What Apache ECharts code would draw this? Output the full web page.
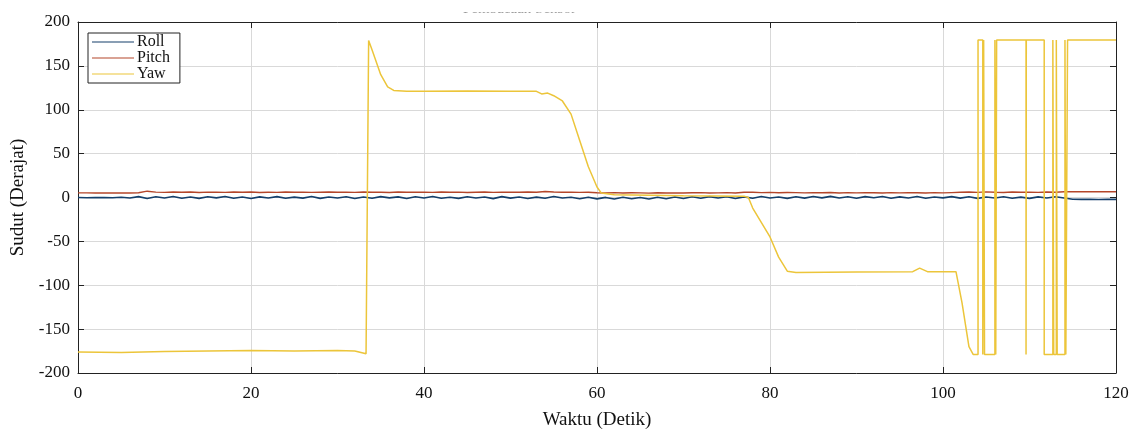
<!DOCTYPE html>
<html>
<head>
<meta charset="utf-8">
<script src="https://cdn.jsdelivr.net/npm/echarts@6/dist/echarts.min.js"></script>
<style>
  html, body { margin: 0; padding: 0; background: #fff; }
  #chart { width: 1135px; height: 435px; }
</style>
</head>
<body>
<div id="chart"></div>
<script>
// roll & pitch sampled once per second, t = 0..120
const roll = [
  0.0, -0.2, -0.1, 0.0, -0.3, 0.2, -0.5, 1.0, -1.2, 0.8,
  -0.6, 1.1, -0.9, 0.5, -1.0, 0.9, -0.4, 1.2, -0.8, 0.6,
  -1.1, 0.7, -0.5, 1.0, -0.9, 0.4, -0.7, 1.1, -1.0, 0.6,
  -0.6, 0.9, -1.2, 0.5, -0.8, 1.0, -0.4, 0.7, -1.1, 0.8,
  -0.5, 1.2, -0.9, 0.3, -1.0, 0.9, -0.6, 0.5, -1.3, 1.0,
  -0.7, 0.6, -1.2, 0.4, -0.9, 1.1, -0.5, 0.2, -1.4, 0.3,
  -1.6, 0.1, -1.8, 0.2, -1.5, 0.0, -1.7, 0.3, -1.4, 0.5,
  -1.2, 0.8, -0.9, 1.0, -0.6, 0.9, -1.1, 0.7, -0.8, 1.2,
  -0.5, 0.6, -1.0, 0.9, -0.7, 1.1, -0.4, 1.3, -0.6, 0.8,
  -0.9, 1.0, -0.3, 1.2, -0.8, 0.7, -0.5, 1.1, -0.9, 0.6,
  -0.4, 1.0, -0.7, 0.8, -1.0, 0.5, -0.6, 0.9, -0.8, 0.4,
  -1.0, 0.7, -0.5, 0.8, -0.6, -2.0, -2.1, -2.0, -2.2, -2.0,
  -2.1
];
const pitch = [
  5.3, 5.3, 5.2, 5.3, 5.2, 5.3, 5.2, 5.4, 7.2, 6.1,
  5.8, 6.3, 5.9, 6.2, 5.7, 6.1, 6.0, 5.8, 6.3, 5.9,
  6.2, 5.7, 6.0, 5.8, 6.2, 5.9, 6.1, 5.8, 6.0, 6.2,
  5.9, 6.1, 5.8, 6.3, 5.9, 6.0, 5.7, 6.2, 5.9, 6.1,
  6.0, 5.8, 6.2, 5.9, 6.1, 5.7, 6.0, 6.2, 5.8, 6.0,
  6.1, 5.9, 6.3, 6.0, 6.8, 6.2, 5.9, 6.1, 5.8, 6.0,
  5.4, 5.2, 5.5, 5.1, 5.4, 5.3, 5.0, 5.4, 5.2, 5.3,
  5.1, 5.4, 5.6, 5.2, 5.3, 5.5, 5.1, 6.0, 5.9, 5.6,
  5.8, 5.4, 5.7, 5.5, 5.3, 5.6, 5.4, 5.7, 5.2, 5.5,
  5.3, 5.6, 5.4, 5.2, 5.5, 5.3, 5.6, 5.4, 5.1, 5.5,
  5.3, 5.6, 5.9, 6.2, 5.8, 6.4, 6.0, 5.7, 6.3, 5.9,
  6.1, 5.8, 6.2, 6.0, 6.5, 6.6, 6.6, 6.5, 6.6, 6.6,
  6.6
];
// yaw as [time, angle] break points
const yaw = [
  [0, -176], [5, -176.5], [10, -175.5], [15, -175], [20, -174.5], [25, -175],
  [30, -174.5], [32, -175], [33.3, -178], [33.5, -178], [33.6, 179], [34, 168],
  [35, 140], [35.8, 126], [36.5, 122], [38, 121], [40, 121], [45, 121.5], [50, 121],
  [53, 121], [53.6, 118], [54.3, 119], [55, 116], [56, 110], [57, 95], [58, 65],
  [59, 35], [60, 12], [60.5, 5], [62, 3], [70, 2], [77, 1.5], [77.5, 0], [78, -12],
  [80, -45], [81, -68], [82, -84], [83, -85.5], [90, -85], [96.5, -84.5],
  [97.3, -80.5], [98.2, -84.5], [101.5, -84.5], [102.2, -120], [103, -170],
  [103.5, -179], [104.05, -179], [104.05, 179.5], [104.6, 179.5], [104.6, -179],
  [104.7, -179], [104.7, 179.5], [104.8, 179.5], [104.8, -179], [106, -179],
  [106, 179.5], [106.1, 179.5], [106.1, -179], [106.2, -179], [106.2, 179.5],
  [109.6, 179.5], [109.6, -179], [109.63, -179], [109.63, 179.5], [111.7, 179.5],
  [111.7, -179], [112.7, -179], [112.7, 179.5], [112.8, 179.5], [112.8, -179],
  [113.1, -179], [113.1, 179.5], [113.2, 179.5], [113.2, -179], [114.1, -179],
  [114.1, 179.5], [114.2, 179.5], [114.2, -179], [114.4, -179], [114.4, 179.5],
  [120, 179.5]
];
const seriesNames = ["Roll", "Pitch", "Yaw"];
const colors = ["#143f6b", "#b4462a", "#ECC53A"];

const chart = echarts.init(document.getElementById("chart"));
const font = "Liberation Serif";

const withTime = (arr) => arr.map((v, i) => [i, v]);

const axisCommon = {
  axisLine: { show: true, onZero: false, lineStyle: { color: "#222", width: 1 } },
  axisTick: { show: true, inside: true, length: 6, lineStyle: { color: "#222" } },
  axisLabel: { color: "#111", fontFamily: font, fontSize: 17 },
};

chart.setOption({
  animation: false,
  backgroundColor: "#fff",
  grid: { left: 78, right: 19, top: 22, bottom: 58, containLabel: false },
  legend: {
    orient: "vertical",
    left: 88,
    top: 33,
    data: seriesNames,
    itemWidth: 42,
    itemHeight: 10,
    itemGap: 0,
    padding: [1, 10, 1, 4],
    borderColor: "#222",
    borderWidth: 1,
    backgroundColor: "#fff",
    icon: "path://M0,4.5L42,4.5L42,5.5L0,5.5Z",
    textStyle: { fontFamily: font, fontSize: 16, lineHeight: 14, color: "#111", padding: [0, 0, 0, -2] },
  },
  xAxis: [
    {
      type: "value", min: 0, max: 120, interval: 20,
      ...axisCommon,
      axisLabel: { ...axisCommon.axisLabel, margin: 12 },
      splitLine: { show: true, lineStyle: { color: "#d9d9d9" } },
      name: "Waktu (Detik)", nameLocation: "middle", nameGap: 38,
      nameTextStyle: { fontFamily: font, fontSize: 19, color: "#111" },
    },
    {
      type: "value", min: 0, max: 120, interval: 20, position: "top",
      ...axisCommon, axisLabel: { show: false }, splitLine: { show: false },
    },
  ],
  yAxis: [
    {
      type: "value", min: -200, max: 200, interval: 50,
      ...axisCommon,
      axisLabel: { ...axisCommon.axisLabel, margin: 8 },
      splitLine: { show: true, lineStyle: { color: "#d9d9d9" } },
      name: "Sudut (Derajat)", nameLocation: "middle", nameGap: 50,
      nameTextStyle: { fontFamily: font, fontSize: 19, color: "#111" },
    },
    {
      type: "value", min: -200, max: 200, interval: 50, position: "right",
      ...axisCommon, axisLabel: { show: false }, splitLine: { show: false },
    },
  ],
  graphic: [
    {
      type: "text", left: 463, top: 2, z: 1,
      style: { text: "Pembacaan Sensor", font: "15px 'Liberation Serif'", fill: "#333" },
    },
    {
      type: "rect", z: 2,
      shape: { x: 440, y: 0, width: 200, height: 12.5 },
      style: { fill: "#fff" },
    },
  ],
  series: [
    {
      name: "Roll", type: "line", data: withTime(roll), showSymbol: false,
      color: colors[0], lineStyle: { width: 1.6 }, z: 3,
    },
    {
      name: "Pitch", type: "line", data: withTime(pitch), showSymbol: false,
      color: colors[1], lineStyle: { width: 1.4 }, z: 2,
    },
    {
      name: "Yaw", type: "line", data: yaw, showSymbol: false,
      color: colors[2], lineStyle: { width: 1.5 }, z: 4,
    },
  ],
});
</script>
</body>
</html>
